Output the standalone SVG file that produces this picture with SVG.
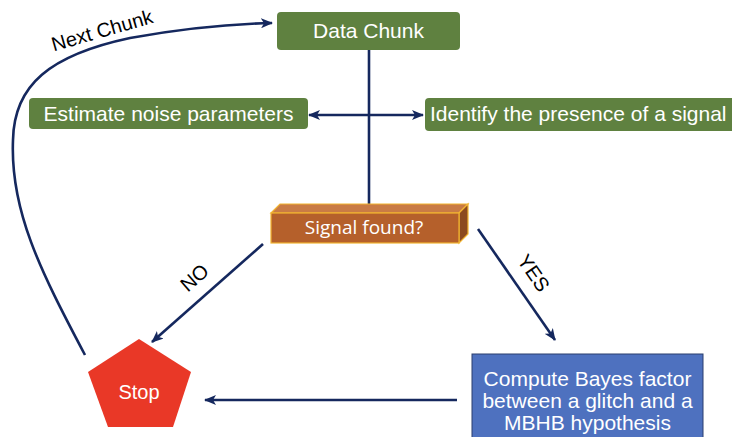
<svg xmlns="http://www.w3.org/2000/svg" width="732" height="437" viewBox="0 0 732 437">
<style>
.green{fill:#5f8140;}
.lbl{font-family:"Liberation Sans",Arial,sans-serif;fill:#fff;}
.blk{font-family:"Liberation Sans",Arial,sans-serif;fill:#000;}
.ln{stroke:#15285e;stroke-width:2.6;fill:none;}
</style>
<defs>
<marker id="ah" viewBox="0 0 12 10" refX="11" refY="5" markerWidth="12" markerHeight="10" markerUnits="userSpaceOnUse" orient="auto-start-reverse">
<path d="M0,0 L12,5 L0,10 L3,5 Z" fill="#15285e"/>
</marker>
</defs>
<rect width="732" height="437" fill="#fff"/>
<g id="connectors">
<line class="ln" x1="369" y1="50" x2="369" y2="205"/>
<line class="ln" x1="309" y1="115" x2="423" y2="115" marker-start="url(#ah)" marker-end="url(#ah)"/>
<line class="ln" x1="263" y1="244" x2="152" y2="342" marker-end="url(#ah)"/>
<line class="ln" x1="478" y1="229" x2="555" y2="340" marker-end="url(#ah)"/>
<line class="ln" x1="457" y1="400" x2="205" y2="400" marker-end="url(#ah)"/>
<path class="ln" d="M85,355 C40,270 10,210 13,140 C14,85 50,55 130,38 C180,29 230,24 272,23" marker-end="url(#ah)"/>
<text class="blk" transform="translate(104,37) rotate(-16)" text-anchor="middle" font-size="20">Next Chunk</text>
<text class="blk" transform="translate(199,283) rotate(-41)" text-anchor="middle" font-size="20">NO</text>
<text class="blk" transform="translate(528,277) rotate(55)" text-anchor="middle" font-size="20">YES</text>
</g>
<g id="data-chunk">
<rect class="green" x="277" y="12" width="183" height="38" rx="4"/>
<text class="lbl" x="368.5" y="38" text-anchor="middle" font-size="21">Data Chunk</text>
</g>
<g id="estimate-noise">
<rect class="green" x="29" y="98" width="279" height="31" rx="4"/>
<text class="lbl" x="168.5" y="121" text-anchor="middle" font-size="21">Estimate noise parameters</text>
</g>
<g id="identify-signal">
<rect class="green" x="425" y="98" width="320" height="33" rx="4"/>
<text class="lbl" x="430" y="121" font-size="21">Identify the presence of a signal</text>
</g>
<g id="signal-found">
<polygon points="271,213 280,204 468,204 459,213" fill="#c97b45" stroke="#f2b431" stroke-width="1.2"/>
<polygon points="459,213 468,204 468,234 459,243" fill="#8c4a1f" stroke="#f2b431" stroke-width="1.2"/>
<rect x="271" y="213" width="188" height="30" fill="#b5602b" stroke="#f2b431" stroke-width="1.2"/>
<text x="364" y="234" text-anchor="middle" font-family="'Open Sans','Noto Sans',sans-serif" font-size="19" fill="#fff">Signal found?</text>
</g>
<g id="stop">
<polygon points="139,339 191,372 173,427 108,427 88,372" fill="#e93827"/>
<text class="lbl" x="139" y="399" text-anchor="middle" font-size="20">Stop</text>
</g>
<g id="compute-bayes">
<rect x="472" y="354" width="231" height="90" fill="#4e71bf" stroke="#2b3f6e" stroke-width="1"/>
<text class="lbl" text-anchor="middle" font-size="21"><tspan x="587.5" y="386">Compute Bayes factor</tspan><tspan x="587.5" y="408">between a glitch and a</tspan><tspan x="587.5" y="430">MBHB hypothesis</tspan></text>
</g>
</svg>
